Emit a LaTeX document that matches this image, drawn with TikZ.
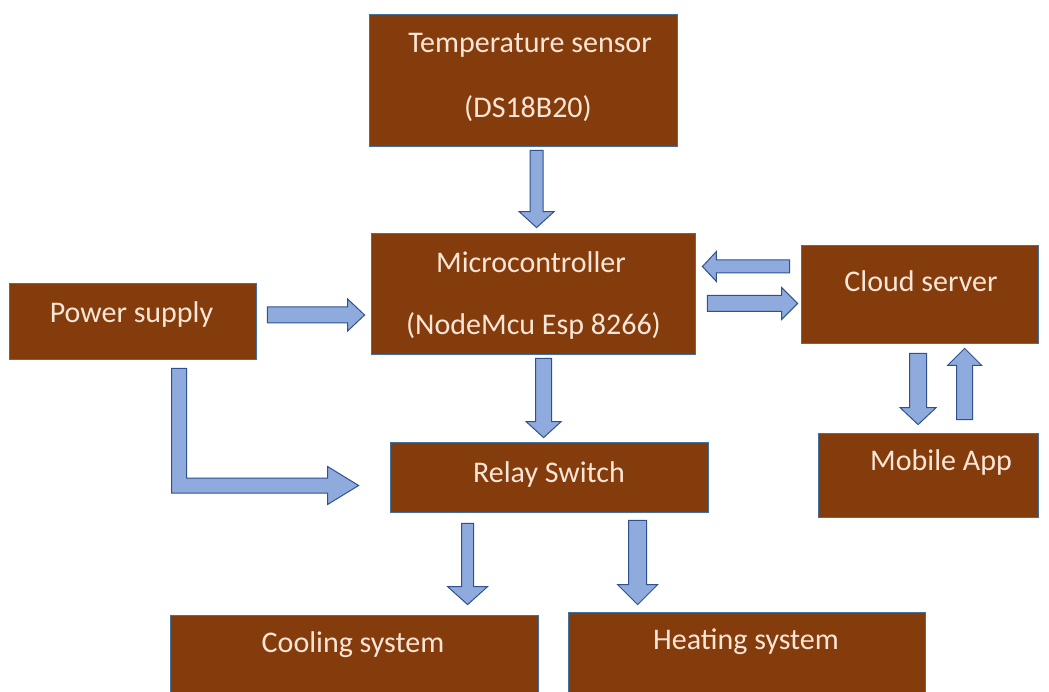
\documentclass[tikz,border=0pt]{standalone}
\usepackage{fontspec}
\setmainfont{Carlito}
\usetikzlibrary{calc}
\definecolor{boxbrown}{HTML}{843C0C}
\definecolor{boxedge}{HTML}{41719C}
\definecolor{arrowfill}{HTML}{8FAADC}
\definecolor{arrowedge}{HTML}{2F528F}
\definecolor{textcream}{HTML}{FBE5D6}
\tikzset{
  blockbox/.style={rectangle, fill=boxbrown, draw=boxedge, line width=0.8pt, inner sep=0pt},
  boxtext/.style={anchor=base, text=textcream, inner sep=0pt, font=\fontsize{30}{36}\selectfont},
  flowarrow/.style={fill=arrowfill, draw=arrowedge, line width=1pt, line join=miter}
}
\newcommand\blockarrow[5]{%
  \path let \p1=($(#2)-(#1)$) in \pgfextra{%
    \pgfmathsetmacro\baL{veclen(\x1,\y1)}%
    \pgfmathsetmacro\baA{atan2(\y1,\x1)}%
    \global\let\gbaL\baL \global\let\gbaA\baA};
  \filldraw[flowarrow, shift={(#1)}, rotate=\gbaA]
    (0pt,-#3pt) -- (\gbaL pt-#5pt,-#3pt) -- (\gbaL pt-#5pt,-#4pt) -- (\gbaL pt,0pt)
    -- (\gbaL pt-#5pt,#4pt) -- (\gbaL pt-#5pt,#3pt) -- (0pt,#3pt) -- cycle;
}
\begin{document}
\begin{tikzpicture}[x=1pt,y=-1pt]
\useasboundingbox (0,0) rectangle (1049,692);
\clip (0,0) rectangle (1049,692);
\fill[white] (0,0) rectangle (1049,692);

% boxes
\node[blockbox, minimum width=308pt, minimum height=132pt] (temp) at (523,80) {};
\node[blockbox, minimum width=324pt, minimum height=121pt] (micro) at (533,293.5) {};
\node[blockbox, minimum width=247pt, minimum height=76pt] (power) at (132.5,321) {};
\node[blockbox, minimum width=237pt, minimum height=98pt] (cloud) at (919.5,294) {};
\node[blockbox, minimum width=220pt, minimum height=84pt] (mobile) at (928,475) {};
\node[blockbox, minimum width=318pt, minimum height=70pt] (relay) at (549,477) {};
\node[blockbox, minimum width=368pt, minimum height=95pt] (cooling) at (354,662.5) {};
\node[blockbox, minimum width=357pt, minimum height=98pt] (heating) at (746.5,661) {};

% texts
\node[boxtext] (temp-t1) at (530,53) {Temperature sensor};
\node[boxtext] (temp-t2) at (528,118) {(DS18B20)};
\node[boxtext] (micro-t1) at (531,273) {Microcontroller};
\node[boxtext] (micro-t2) at (533.5,335) {(NodeMcu Esp 8266)};
\node[boxtext] (power-t) at (131.5,323) {Power supply};
\node[boxtext] (cloud-t) at (921,292) {Cloud server};
\node[boxtext] (mobile-t) at (941,470) {Mobile App};
\node[boxtext] (relay-t) at (549,482) {Relay Switch};
\node[boxtext] (cooling-t) at (353,652) {Cooling system};
\node[boxtext] (heating-t) at (746,649) {Heating system};

% arrow end points
\coordinate (a1s) at ($(temp.south west)+(168,4)$);
\coordinate (a1e) at ($(micro.north west)+(166,-5)$);
\coordinate (a2s) at ($(power.east)+(11,-6)$);
\coordinate (a2e) at ($(micro.west)+(-6,21.5)$);
\coordinate (a3s) at ($(micro.south west)+(173,4)$);
\coordinate (a3e) at ($(relay.north west)+(154,-4)$);
\coordinate (a4s) at ($(cloud.west)+(-11,-27.5)$);
\coordinate (a4e) at ($(micro.east)+(7,-27)$);
\coordinate (a5s) at ($(micro.east)+(12,10)$);
\coordinate (a5e) at ($(cloud.west)+(-3,9.5)$);
\coordinate (a6s) at ($(cloud.south west)+(117.5,10)$);
\coordinate (a6e) at ($(mobile.north west)+(100.5,-8)$);
\coordinate (a7s) at ($(mobile.north west)+(147,-13)$);
\coordinate (a7e) at ($(cloud.south west)+(164,5)$);
\coordinate (a8s) at ($(relay.south west)+(78,11)$);
\coordinate (a8e) at ($(cooling.north west)+(298,-10)$);
\coordinate (a9s) at ($(relay.south west)+(248,8)$);
\coordinate (a9e) at ($(heating.north west)+(70,-7)$);
\coordinate (pbs) at ($(power.south west)+(170.5,9)$);
\coordinate (pbe) at ($(relay.west)+(-31,8.5)$);

% arrows
\blockarrow{a1s}{a1e}{6.5}{17.5}{16}
\blockarrow{a2s}{a2e}{8}{16}{17}
\blockarrow{a3s}{a3e}{8}{17.5}{16}
\blockarrow{a4s}{a4e}{6.5}{15}{14}
\blockarrow{a5s}{a5e}{8}{16}{16}
\blockarrow{a6s}{a6e}{8.5}{18}{17}
\blockarrow{a7s}{a7e}{8}{17}{17}
\blockarrow{a8s}{a8e}{6}{20}{18}
\blockarrow{a9s}{a9e}{9}{20}{20}
\filldraw[flowarrow] let \p1=(pbs), \p2=(pbe) in
  (\x1-7.5pt,\y1) -- (\x1+7.5pt,\y1) -- (\x1+7.5pt,\y2+7.5pt)
  -- (\x2-31pt,\y2+7.5pt) -- (\x2-31pt,\y2+19pt) -- (\x2,\y2)
  -- (\x2-31pt,\y2-19pt) -- (\x2-31pt,\y2-7.5pt) -- (\x1-7.5pt,\y2-7.5pt) -- cycle;
\end{tikzpicture}
\end{document}
